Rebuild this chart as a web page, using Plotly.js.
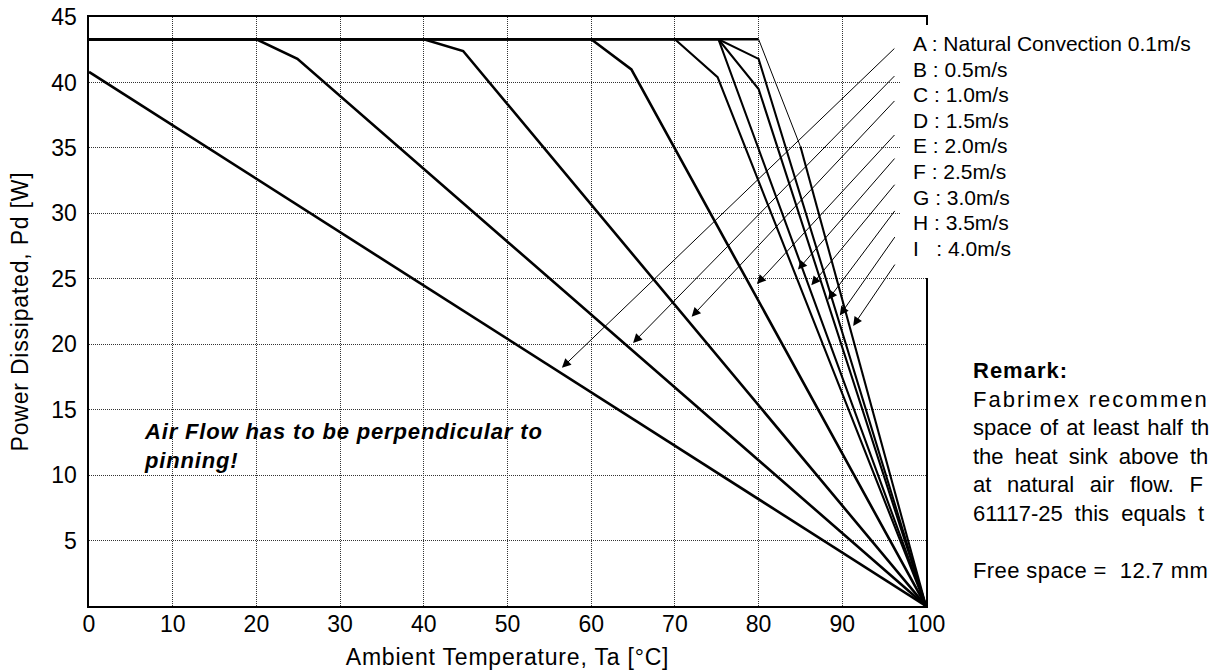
<!DOCTYPE html>
<html>
<head>
<meta charset="utf-8">
<script src="https://cdn.plot.ly/plotly-3.0.1.min.js"></script>
<style>
  html, body { margin: 0; padding: 0; background: #fff; }
  #chart { width: 1210px; height: 671px; }
</style>
</head>
<body>
<div id="chart"></div>
<script>
// ---- data ----
const seriesNames = ["A", "B", "C", "D", "E", "F", "G", "H", "I"];
const xA = [0, 100];                 const yA = [40.8, 0];
const xB = [0, 20, 24.9, 100];       const yB = [43.3, 43.3, 41.8, 0];
const xC = [0, 40, 44.7, 100];       const yC = [43.3, 43.3, 42.4, 0];
const xD = [0, 60, 64.8, 100];       const yD = [43.3, 43.3, 41.0, 0];
const xE = [0, 70, 75.1, 100];       const yE = [43.3, 43.3, 40.4, 0];
const xF = [0, 75.2, 100];           const yF = [43.3, 43.3, 0];
const xG = [0, 75.2, 80, 100];       const yG = [43.3, 43.3, 39.5, 0];
const xH = [0, 75.2, 80, 100];       const yH = [43.3, 43.3, 41.8, 0];
const xI = [0, 80, 85, 100];         const yI = [43.3, 43.3, 35.1, 0];

const legendLabels = [
  "A : Natural Convection 0.1m/s",
  "B : 0.5m/s",
  "C : 1.0m/s",
  "D : 1.5m/s",
  "E : 2.0m/s",
  "F : 2.5m/s",
  "G : 3.0m/s",
  "H : 3.5m/s",
  "I\u00a0\u00a0 : 4.0m/s"
];
// arrow tips (data coordinates) pointing at each curve
const arrowTipX = [56.5, 65.0, 72.0, 79.8, 84.7, 86.3, 88.3, 89.7, 91.3];
const arrowTipY = [18.2, 20.1, 22.1, 24.6, 25.7, 24.5, 23.4, 22.2, 21.4];
// arrow tails (data coordinates)
const arrowTailX = [96.4, 96.4, 96.4, 96.4, 96.4, 96.4, 96.4, 96.4, 96.4];
const arrowTailY = [42.7, 40.6, 38.7, 36.1, 34.3, 32.3, 30.3, 28.3, 26.2];

const xTickVals = [0, 10, 20, 30, 40, 50, 60, 70, 80, 90, 100];
const yTickVals = [5, 10, 15, 20, 25, 30, 35, 40, 45];

const xTitle = "Ambient Temperature, Ta [°C]";
const yTitle = "Power Dissipated, Pd [W]";
const noteLines = ["Air Flow has to be perpendicular to", "pinning!"];
// remark text as visible in the reference (the page edge cuts the column)
const remarkTitle = "Remark:";
const remarkLines = [
  "Fabrimex recommen",
  "space of at least half th",
  "the heat sink above th",
  "at natural air flow. F",
  "61117-25 this equals t",
  "",
  "Free space =\u00a0 12.7 mm"
];

// ---- build ----
const FONT = "Liberation Sans, Arial, Helvetica, sans-serif";
const seriesX = [xA, xB, xC, xD, xE, xF, xG, xH, xI];
const seriesY = [yA, yB, yC, yD, yE, yF, yG, yH, yI];
const widths = [2.6, 2.6, 2.6, 2.6, 2.1, 2.1, 2.1, 2.1, 2.1];

const traces = [];
seriesNames.forEach((n, i) => {
  if (n === "I") {
    // plateau, thin connecting segment, then steep segment
    const segs = [[0, 2, 2.6], [1, 3, 1], [2, 4, 2.1]];
    segs.forEach(s => traces.push({
      x: seriesX[i].slice(s[0], s[1]), y: seriesY[i].slice(s[0], s[1]),
      mode: "lines", line: {color: "#000", width: s[2]},
      name: n, showlegend: false, hoverinfo: "skip"
    }));
  } else {
    traces.push({
      x: seriesX[i], y: seriesY[i], mode: "lines",
      line: {color: "#000", width: widths[i]},
      name: n, showlegend: false, hoverinfo: "skip"
    });
  }
});

// pixel helpers for paper positions
const W = 1210, H = 671, ML = 89, MR = 284, MT = 17, MB = 65;
const PW = W - ML - MR, PH = H - MT - MB;
const px2paperX = p => (p - ML) / PW;
const px2paperY = p => (H - MB - p) / PH;
const spaced = (t, ls, ws) =>
  '<span style="letter-spacing:' + ls + 'px;word-spacing:' + ws + 'px">' + t + '</span>';

const annotations = [];
// arrows
arrowTipX.forEach((tx, i) => annotations.push({
  x: tx, y: arrowTipY[i], xref: "x", yref: "y",
  ax: arrowTailX[i], ay: arrowTailY[i], axref: "x", ayref: "y",
  text: "", showarrow: true, arrowhead: 2, arrowsize: 1.8,
  arrowwidth: 1, arrowcolor: "#000", standoff: 0
}));
// legend text
legendLabels.forEach((t, i) => annotations.push({
  x: px2paperX(911), y: px2paperY(43.5 + i * 25.6),
  xref: "paper", yref: "paper", xanchor: "left", yanchor: "middle",
  text: t, showarrow: false, align: "left",
  font: {family: FONT, size: 21, color: "#000"}
}));
// note
annotations.push({
  x: px2paperX(142), y: px2paperY(446), xref: "paper", yref: "paper",
  xanchor: "left", yanchor: "middle", align: "left", showarrow: false,
  text: "<b><i>" + noteLines.map(l => spaced(l, 0.85, 0)).join("<br>") + "</i></b>",
  font: {family: FONT, size: 22, color: "#000"}
});
// remark (per-line spacing imitates the justified column)
const remarkSpacing = [[2, 0], [0, 2], [0, 5], [0, 9.5], [0, 6], [0, 0], [0.4, 0]];
const remarkHtml = ["<b>" + spaced(remarkTitle, 1, 0) + "</b>"].concat(
  remarkLines.map((l, i) => l ? spaced(l, remarkSpacing[i][0], remarkSpacing[i][1]) : "")
).join("<br>");
annotations.push({
  x: px2paperX(971), y: px2paperY(471), xref: "paper", yref: "paper",
  xanchor: "left", yanchor: "middle", align: "left", showarrow: false,
  text: remarkHtml,
  font: {family: FONT, size: 22, color: "#000"}
});

const layout = {
  width: W, height: H,
  margin: {l: ML, r: MR, t: MT, b: MB, pad: 0},
  paper_bgcolor: "#fff", plot_bgcolor: "#fff",
  font: {family: FONT, size: 22, color: "#000"},
  showlegend: false,
  xaxis: {
    range: [0, 100], tickvals: xTickVals, ticktext: xTickVals.map(String),
    showline: true, mirror: true, linecolor: "#000", linewidth: 1.6,
    showgrid: true, gridcolor: "#333", gridwidth: 1, griddash: "1px,1px",
    zeroline: false, ticks: "", ticklabelstandoff: -3,
    tickfont: {family: FONT, size: 23, color: "#000"},
    title: {text: spaced(xTitle, 0.8, 0), font: {family: FONT, size: 23, color: "#000"}, standoff: 12},
    fixedrange: true
  },
  yaxis: {
    range: [0, 45], tickvals: yTickVals, ticktext: yTickVals.map(String),
    showline: true, mirror: true, linecolor: "#000", linewidth: 1.6,
    showgrid: true, gridcolor: "#333", gridwidth: 1, griddash: "1px,1px",
    zeroline: false, ticks: "", ticklabelstandoff: 6,
    tickfont: {family: FONT, size: 23, color: "#000"},
    title: {text: spaced(yTitle, 0.8, 0), font: {family: FONT, size: 23, color: "#000"}, standoff: 16},
    fixedrange: true
  },
  shapes: [{
    type: "rect", xref: "paper", yref: "paper", layer: "above",
    x0: px2paperX(901), x1: px2paperX(1215), y0: px2paperY(278), y1: px2paperY(25),
    fillcolor: "#fff", line: {width: 0}
  }],
  annotations: annotations
};

Plotly.newPlot("chart", traces, layout, {staticPlot: true, displayModeBar: false});
</script>
</body>
</html>
